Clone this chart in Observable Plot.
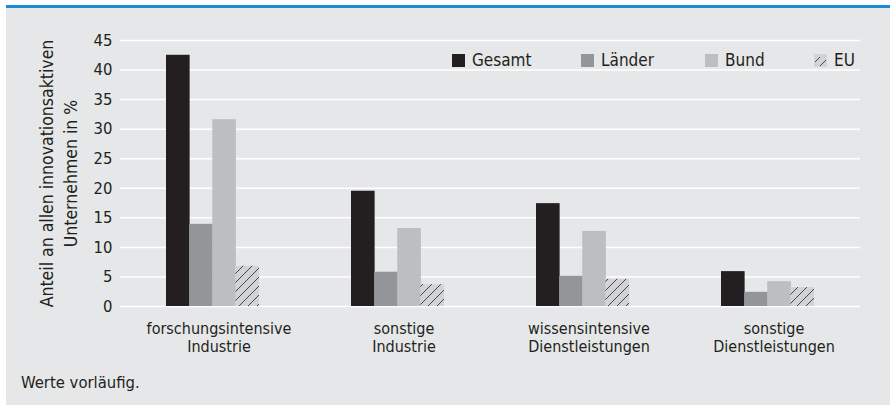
<!DOCTYPE html>
<html>
<head>
<meta charset="utf-8">
<script src="https://cdn.jsdelivr.net/npm/d3@7"></script>
<script src="https://cdn.jsdelivr.net/npm/@observablehq/plot@0.6"></script>
<style>
  html, body { margin: 0; padding: 0; background: #ffffff; }
  body { width: 890px; height: 405px; position: relative; overflow: hidden;
         font-family: "DejaVu Sans Condensed", "Liberation Sans Narrow", sans-serif; font-stretch: condensed; color: #231f20; }
  #topline { position: absolute; left: 6px; top: 5px; width: 884px; height: 3px; background: #1a8ad4; }
  #panel { position: absolute; left: 6px; top: 8px; width: 884px; height: 397px; background: #e6e7e8; }
  #chart { position: absolute; left: 0; top: 0; }
  #legend { position: absolute; top: 41px; left: 0; width: 884px; height: 20px; font-size: 17px; }
  .item { position: absolute; display: flex; align-items: center; gap: 7px; height: 22px; }
  .item svg { display: block; }
  #caption { position: absolute; left: 15px; top: 365px; font-size: 16.5px; }
</style>
</head>
<body>
<div id="topline"></div>
<div id="panel">
  <div id="chart"></div>
  <div id="legend"></div>
  <div id="caption">Werte vorläufig.</div>
</div>
<script>
const categories = ["forschungsintensive Industrie", "sonstige Industrie", "wissensintensive Dienstleistungen", "sonstige Dienstleistungen"];
const categoryLabels = ["forschungsintensive\nIndustrie", "sonstige\nIndustrie", "wissensintensive\nDienstleistungen", "sonstige\nDienstleistungen"];
const series = ["Gesamt", "Länder", "Bund", "EU"];
const gesamt = [42.5, 19.5, 17.4, 5.9];
const laender = [13.9, 5.8, 5.1, 2.4];
const bund = [31.6, 13.2, 12.7, 4.2];
const eu = [6.8, 3.7, 4.6, 3.2];
const yTicks = [0, 5, 10, 15, 20, 25, 30, 35, 40, 45];
const yLabel = "Anteil an allen innovationsaktiven\nUnternehmen in %";
const seriesColors = ["#231f20", "#939598", "#bcbec0", "url(#hatchEU)"];

const valuesBySeries = [gesamt, laender, bund, eu];
const labelOf = new Map(categories.map((c, i) => [c, categoryLabels[i]]));

const font = '"DejaVu Sans Condensed", "Liberation Sans Narrow", sans-serif';
const W = 884, mL = 114, mR = 30;
const bandwidth = (W - mL - mR) / 4 * 0.5; // matches x scale padding below
const sub = bandwidth / series.length;

const barMarks = series.map((s, j) => Plot.barY(
  categories.map((c, i) => ({cat: c, series: s, value: valuesBySeries[j][i]})),
  {x: "cat", y: "value", fill: "series", insetLeft: j * sub, insetRight: (series.length - 1 - j) * sub}
));

const chart = Plot.plot({
  width: W,
  height: 350,
  marginTop: 32,
  marginBottom: 52,
  marginLeft: mL,
  marginRight: mR,
  style: {background: "transparent", fontFamily: font, fontSize: "15px", color: "#231f20", fontStretch: "condensed"},
  x: {domain: categories, paddingInner: 0.5, paddingOuter: 0.25, axis: null},
  y: {domain: [0, 45], axis: null},
  color: {domain: series, range: seriesColors},
  marks: [
    Plot.ruleY(yTicks, {y: d => d, stroke: "#ffffff", strokeWidth: 1.5, strokeOpacity: 1}),
    ...barMarks,
    Plot.text(categories, {x: d => d, text: d => labelOf.get(d), frameAnchor: "bottom", lineAnchor: "top", dx: 6, dy: 14, lineHeight: 1.15, fill: "#231f20", fontSize: 16}),
    Plot.text(yTicks, {y: d => d, text: d => String(d), frameAnchor: "left", textAnchor: "end", dx: -8, fill: "#231f20", fontSize: 16.5}),
    Plot.text([yLabel], {frameAnchor: "left", textAnchor: "middle", rotate: -90, dx: -63, lineAnchor: "middle", lineHeight: 1.35, fontSize: 17.5, fill: "#231f20"})
  ]
});

const svg = d3.select(chart.tagName === "svg" ? chart : chart.querySelector("svg"));
const defs = svg.insert("defs", ":first-child");
const pat = defs.append("pattern").attr("id", "hatchEU").attr("patternUnits", "userSpaceOnUse")
  .attr("width", 9).attr("height", 9);
pat.append("rect").attr("width", 9).attr("height", 9).attr("fill", "#d1d3d4");
pat.append("path").attr("d", "M-1,10 L10,-1 M-3,3 L3,-3 M6,12 L12,6").attr("stroke", "#3a3637").attr("stroke-width", 0.9);
document.getElementById("chart").appendChild(chart);

// legend (HTML overlay)
const legendX = [446, 575, 699, 808];
const legend = document.getElementById("legend");
series.forEach((s, i) => {
  const item = document.createElement("div");
  item.className = "item";
  item.style.left = legendX[i] + "px";
  const sw = document.createElementNS("http://www.w3.org/2000/svg", "svg");
  sw.setAttribute("width", 13); sw.setAttribute("height", 13);
  const r = document.createElementNS("http://www.w3.org/2000/svg", "rect");
  r.setAttribute("width", 13); r.setAttribute("height", 13);
  r.setAttribute("fill", i === 3 ? "#d1d3d4" : seriesColors[i]);
  sw.appendChild(r);
  if (i === 3) {
    const p = document.createElementNS("http://www.w3.org/2000/svg", "path");
    p.setAttribute("d", "M1,8 L6,3 M6,12 L12,6");
    p.setAttribute("stroke", "#3a3637"); p.setAttribute("stroke-width", 0.9);
    sw.appendChild(p);
  }
  const t = document.createElement("span");
  t.textContent = s;
  item.appendChild(sw); item.appendChild(t);
  legend.appendChild(item);
});
</script>
</body>
</html>
